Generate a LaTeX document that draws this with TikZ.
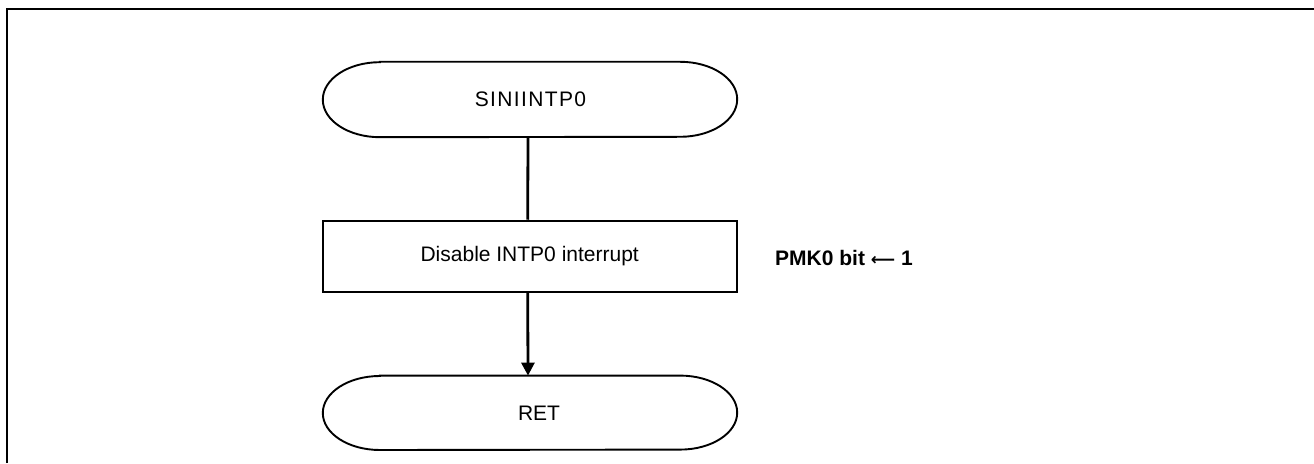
\documentclass[tikz,border=0pt]{standalone}
\usepackage{fontspec}
\setmainfont{Liberation Sans}
\usetikzlibrary{arrows.meta}
\tikzset{
  every node/.style={font=\fontsize{21}{25}\selectfont},
  termnode/.style={minimum width=414pt,minimum height=75pt,inner sep=0pt},
  procbox/.style={draw,line width=1.9pt,minimum width=414pt,minimum height=71pt,inner sep=0pt},
  outl/.style={line width=1.9pt},
  flow/.style={line width=2.8pt},
  frameline/.style={line width=2.3pt},
  note/.style={font=\fontsize{21}{25}\selectfont\bfseries,anchor=west,inner sep=0pt}
}
\begin{document}
\begin{tikzpicture}[x=1pt,y=1pt]
\useasboundingbox (0,0) rectangle (1314,463);
% frame (left and top edges)
\coordinate (fbl) at (6.7,0);
\coordinate (ftl) at (6.7,454);
\coordinate (ftr) at (1314,454);
\draw[frameline] (fbl) -- (ftl) -- (ftr);
% nodes
\node[termnode] (start) at (530,363.5) {};
\node (starttext) at (530.5,363.5) {\addfontfeatures{LetterSpace=6.5}SINIINTP0};
\node[procbox] (box) at (529.7,206.8) {Disable INTP0 interrupt};
\node[termnode,minimum height=74pt] (ret) at (530,50.2) {};
\node (rettext) at (539,50.2) {RET};
\node[note] (pmk) at (775,205.5) {PMK0 bit {\fontspec{DejaVu Sans}\fontsize{17}{20}\selectfont\bfseries ⟵} 1};
% terminal outlines
\draw[outl] ([xshift=57pt]start.north west) -- ([xshift=-57pt]start.north east)
  arc[start angle=90,end angle=-90,x radius=57pt,y radius=37.5pt]
  -- ([xshift=57pt]start.south west)
  arc[start angle=270,end angle=90,x radius=57pt,y radius=37.5pt] -- cycle;
\draw[outl] ([xshift=57pt]ret.north west) -- ([xshift=-57pt]ret.north east)
  arc[start angle=90,end angle=-90,x radius=57pt,y radius=37pt]
  -- ([xshift=57pt]ret.south west)
  arc[start angle=270,end angle=90,x radius=57pt,y radius=37pt] -- cycle;
% connectors
\draw[flow] ([xshift=-2pt]start.south) -- ([xshift=-2pt]box.north);
\draw[flow,-{Triangle[length=13pt,width=13pt]}] ([xshift=-2pt]box.south) -- ([xshift=-2pt]ret.north);
\end{tikzpicture}
\end{document}
